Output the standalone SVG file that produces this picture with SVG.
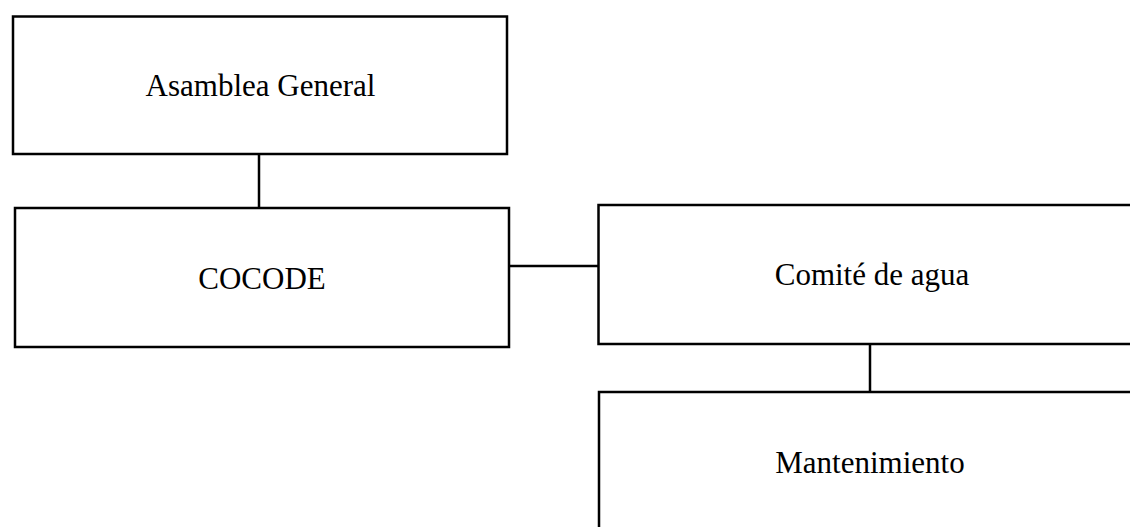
<svg xmlns="http://www.w3.org/2000/svg" width="1130" height="527" viewBox="0 0 1130 527">
<style>
.box{fill:#fff;stroke:#000;stroke-width:2.5}
.lbl{font-family:"Liberation Serif","Times New Roman",serif;font-size:31px;fill:#000;text-anchor:middle}
.conn line{stroke:#000;stroke-width:2.5}
</style>
<rect width="1130" height="527" fill="#fff"/>
<g id="asamblea">
<rect class="box" x="13" y="16.5" width="494" height="137.5"/>
<text class="lbl" x="260.5" y="96">Asamblea General</text>
</g>
<g id="cocode">
<rect class="box" x="15" y="208" width="494" height="139"/>
<text class="lbl" x="262" y="289">COCODE</text>
</g>
<g id="comite">
<path class="box" d="M1132,205 L598.5,205 L598.5,344 L1132,344"/>
<text class="lbl" x="872" y="285">Comité de agua</text>
</g>
<g id="mantenimiento">
<path class="box" d="M1132,392 L599,392 L599,530"/>
<text class="lbl" x="870" y="473">Mantenimiento</text>
</g>
<g class="conn" id="connectors">
<line x1="259" y1="154" x2="259" y2="208"/>
<line x1="509" y1="266" x2="598.5" y2="266"/>
<line x1="870" y1="344" x2="870" y2="392"/>
</g>
</svg>
